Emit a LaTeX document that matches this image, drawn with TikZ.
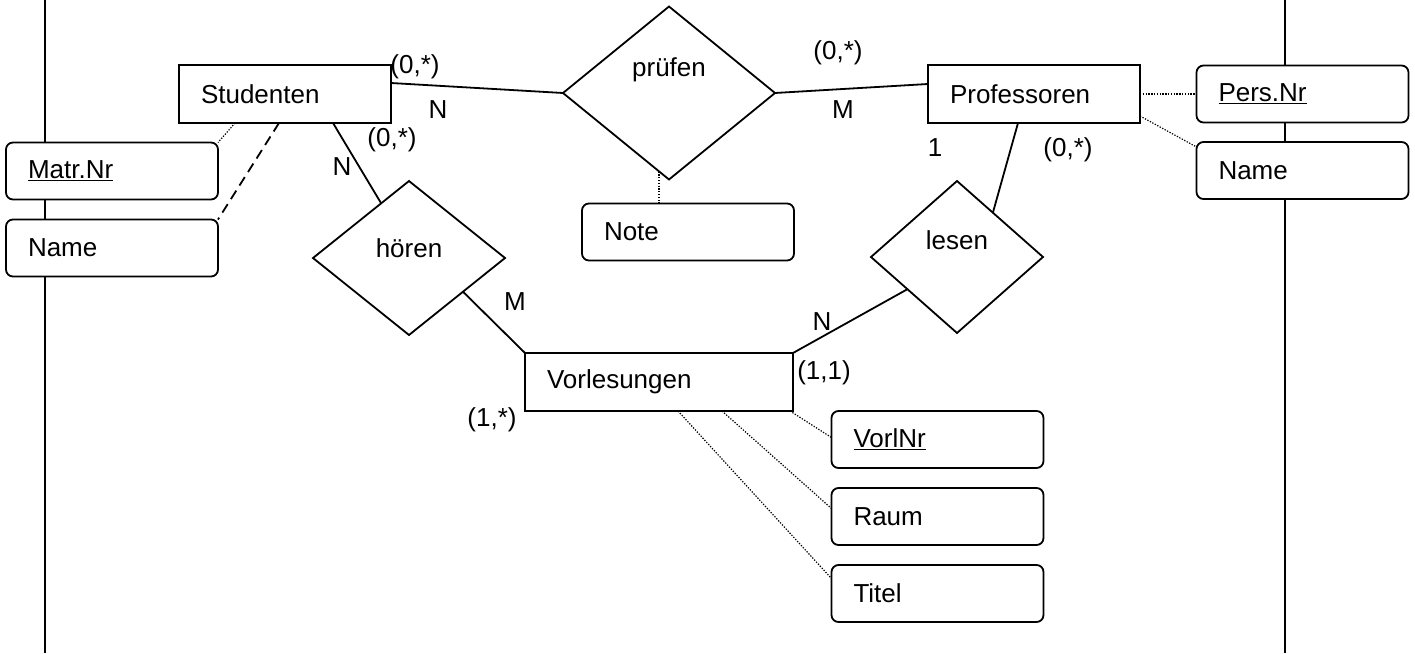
\documentclass[tikz,border=0pt]{standalone}
\usepackage{fontspec}
\setmainfont{Liberation Sans}
\usetikzlibrary{shapes.geometric}

\begin{document}
\begin{tikzpicture}[x=1pt, y=-1pt, line width=1.8pt,
        font=\fontsize{26pt}{31pt}\selectfont,
        ent/.style={draw, rectangle, minimum height=58pt, text width=#1, inner xsep=22pt, align=left, outer sep=0pt},
        att/.style={draw, rounded corners=7pt, fill=white, minimum height=57pt, text width=168pt, inner xsep=22pt, align=left, outer sep=0pt},
        rel/.style={draw, diamond, inner sep=0pt, outer sep=0pt},
        dots/.style={line width=1.2pt, dash pattern=on 1.3pt off 1.5pt},
        dashline/.style={dash pattern=on 10pt off 6pt},
        card/.style={inner sep=0pt}]
        \useasboundingbox (0,0) rectangle (1415,653);
        % page margins
        \draw (45,0)--(45,653);
        \draw (1285,0)--(1285,653);
        % entities
        \node[ent=168pt] (stud) at (285,94) {Studenten};
        \node[ent=168pt] (prof) at (1034,94) {Professoren};
        \node[ent=224pt] (vorl) at (659,382) {Vorlesungen};
        % relationships
        \node[rel, minimum width=212pt, minimum height=173pt, label={[name=pruefen-t, yshift=23pt]center:prüfen}] (pruefen) at (669,93) {};
        \node[rel, minimum width=192pt, minimum height=154pt, label={[name=hoeren-t, yshift=10pt]center:hören}] (hoeren) at (409,258) {};
        \node[rel, minimum width=172pt, minimum height=152pt, label={[name=lesen-t, yshift=17pt]center:lesen}] (lesen) at (957,257) {};
        % attributes
        \node[att] (matr) at (112,171) {\underline{Matr.Nr}};
        \node[att] (sname) at (112,248) {Name};
        \node[att] (note) at (688,232) {Note};
        \node[att] (persnr) at (1302.5,94) {\underline{Pers.Nr}};
        \node[att] (pname) at (1302.5,170.5) {Name};
        \node[att] (vnr) at (937.5,439.5) {\underline{VorlNr}};
        \node[att] (raum) at (937.5,516.5) {Raum};
        \node[att] (titel) at (937.5,593.5) {Titel};
        % relationship lines
        \draw ([yshift=11pt]stud.east) -- (pruefen.west);
        \draw (pruefen.east) -- ([yshift=10pt]prof.west);
        \draw ([xshift=48pt]stud.south) -- (hoeren.117);
        \draw (hoeren.328) -- (vorl.north west);
        \draw ([xshift=-16pt]prof.south) -- (lesen.51);
        \draw (lesen.213) -- (vorl.north east);
        % attribute lines
        \draw[dots] ([xshift=-50pt]stud.south) -- (matr.north east);
        \draw[dashline] ([xshift=-6pt]stud.south) -- (sname.north east);
        \draw[dots] ([shift={(-10pt,8pt)}]pruefen.south) -- ([xshift=-29pt]note.north);
        \draw[dots] (prof.east) -- (persnr.west);
        \draw[dots] ([yshift=-22pt]prof.east) -- ([yshift=-5pt]pname.north west);
        \draw[dots] ([xshift=-3pt]vorl.south east) -- ([yshift=2pt]vnr.west);
        \draw[dots] ([xshift=63pt]vorl.south) -- ([yshift=8pt]raum.west);
        \draw[dots] ([xshift=19pt]vorl.south) -- ([yshift=15pt]titel.west);
        % cardinalities
        \node[card] (c-sp) at (415,67) {(0,*)};
        \node[card] (n-sp) at (438,110) {N};
        \node[card] (c-sh) at (392,140) {(0,*)};
        \node[card] (n-sh) at (342,167) {N};
        \node[card] (c-pp) at (838,53) {(0,*)};
        \node[card] (m-pp) at (843,110) {M};
        \node[card] (one-pl) at (935,148) {1};
        \node[card] (c-pl) at (1068,150) {(0,*)};
        \node[card] (m-hv) at (515,302) {M};
        \node[card] (n-lv) at (822,322) {N};
        \node[card] (c-lv) at (824,373) {(1,1)};
        \node[card] (c-hv) at (492,420) {(1,*)};
\end{tikzpicture}
\end{document}
